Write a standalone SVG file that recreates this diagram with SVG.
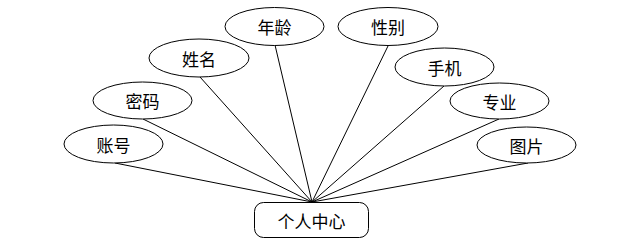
<svg xmlns="http://www.w3.org/2000/svg" width="642" height="246" viewBox="0 0 642 246">
<style>
.n{fill:#fff;stroke:#000;stroke-width:1}
.t{font-family:"Noto Sans CJK SC","Noto Sans CJK TC",sans-serif;font-size:17px;fill:#000;text-anchor:middle;dominant-baseline:central}
.c line{stroke:#000;stroke-width:1}
</style>
<rect width="642" height="246" fill="#fff"/>
<g id="connectors" class="c">
<line x1="115" y1="163" x2="312" y2="202"/>
<line x1="143" y1="119" x2="312" y2="202"/>
<line x1="200" y1="77" x2="312" y2="202"/>
<line x1="275" y1="45" x2="312" y2="202"/>
<line x1="388" y1="46" x2="312" y2="202"/>
<line x1="444" y1="86" x2="312" y2="202"/>
<line x1="499" y1="119" x2="312" y2="202"/>
<line x1="528" y1="163" x2="312" y2="202"/>
</g>
<g id="zhanghao"><ellipse class="n" cx="113.5" cy="144" rx="49.5" ry="19"/><text class="t" x="113.5" y="144">账号</text></g>
<g id="mima"><ellipse class="n" cx="142.5" cy="100.5" rx="49.5" ry="18.5"/><text class="t" x="142.5" y="100.5">密码</text></g>
<g id="xingming"><ellipse class="n" cx="199" cy="58" rx="50" ry="19"/><text class="t" x="199" y="58">姓名</text></g>
<g id="nianling"><ellipse class="n" cx="274.5" cy="26.5" rx="49.5" ry="19"/><text class="t" x="274.5" y="26.5">年龄</text></g>
<g id="xingbie"><ellipse class="n" cx="388" cy="26.5" rx="50" ry="19"/><text class="t" x="388" y="26.5">性别</text></g>
<g id="shouji"><ellipse class="n" cx="444.5" cy="67" rx="49.5" ry="19"/><text class="t" x="444.5" y="67">手机</text></g>
<g id="zhuanye"><ellipse class="n" cx="499.5" cy="101" rx="49.5" ry="18"/><text class="t" x="499.5" y="101">专业</text></g>
<g id="tupian"><ellipse class="n" cx="526.5" cy="145" rx="49.5" ry="18"/><text class="t" x="526.5" y="145">图片</text></g>
<g id="gerenzhongxin"><rect class="n" x="254.5" y="202.5" width="114" height="35" rx="9" ry="9"/><text class="t" x="311.5" y="220">个人中心</text></g>
</svg>
